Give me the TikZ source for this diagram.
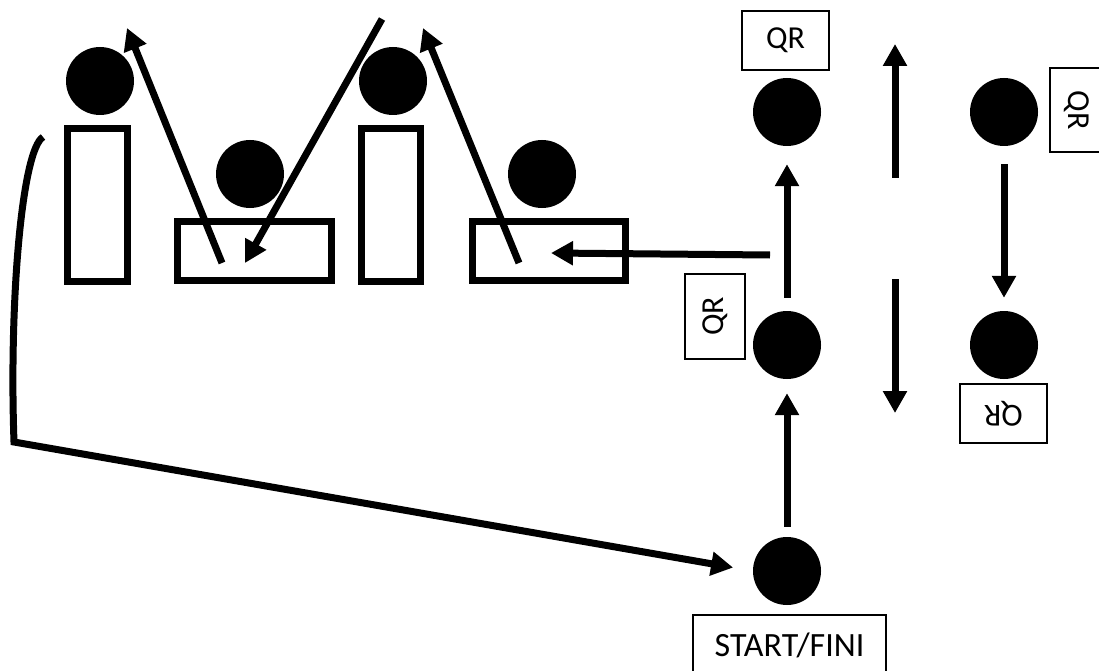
\documentclass[tikz,border=0pt]{standalone}
\usepackage{fontspec}
\setmainfont{Carlito}
\usetikzlibrary{arrows.meta}
\begin{document}
\begin{tikzpicture}[x=1pt,y=-1pt,
  head/.style={circle,fill=black,inner sep=0pt,minimum size=68pt},
  body/.style={rectangle,draw=black,line width=7pt,inner sep=0pt},
  qrbox/.style={rectangle,draw=black,line width=1.2pt,inner sep=0pt,
     font=\fontsize{32}{36}\selectfont},
  arr/.style={line width=7pt,-{Triangle[length=22pt,width=23pt]}},
  curveline/.style={line width=7pt,line join=miter}
]
\useasboundingbox (0,0) rectangle (1099,671);
% left figures
\node[head] (h1) at (100,81) {};
\node[body,minimum width=60pt,minimum height=152pt] (b1) at (97,205) {};
\node[head] (h2) at (250,174) {};
\node[body,minimum width=154pt,minimum height=59pt] (b2) at (254,250.5) {};
\node[head] (h3) at (393,81) {};
\node[body,minimum width=59pt,minimum height=152pt] (b3) at (390.5,205) {};
\node[head] (h4) at (542,174) {};
\node[body,minimum width=153pt,minimum height=59pt] (b4) at (548.5,250.5) {};
% right circles
\node[head] (A) at (787,112) {};
\node[head] (B) at (1004,112) {};
\node[head] (C) at (787,345) {};
\node[head] (D) at (1004,345) {};
\node[head] (S) at (787,571) {};
% labels
\node[qrbox,minimum width=87pt,minimum height=59pt] (qa) at (785.5,40.5) {QR};
\node[qrbox,rotate=-90,minimum width=84pt,minimum height=54pt] (qb) at (1077,110) {QR};
\node[qrbox,rotate=90,minimum width=85pt,minimum height=60pt] (qc) at (715,316.5) {QR};
\node[qrbox,rotate=180,minimum width=87pt,minimum height=59pt] (qd) at (1003.5,413.5) {QR};
\node[qrbox,font=\fontsize{34}{38}\selectfont,minimum width=193pt,minimum height=60pt] (qs) at (789.5,645) {START/FINI};
% free ends
\coordinate (a1s) at (222,263);
\coordinate (a1e) at (127,28);
\coordinate (a2s) at (382,19);
\coordinate (a2e) at (245,263);
\coordinate (a3s) at (519,263);
\coordinate (a3e) at (423,28);
\coordinate (a4s) at (770,255);
\coordinate (a4e) at (551,253);
\coordinate (mus) at (895,178);
\coordinate (mue) at (895,44);
\coordinate (mds) at (895,279);
\coordinate (mde) at (895,413);
\coordinate (cs) at (43,137);
\coordinate (cc) at (14,442);
% arrows
\draw[arr] (a1s) -- (a1e);
\draw[arr] (a2s) -- (a2e);
\draw[arr] (a3s) -- (a3e);
\draw[arr] (a4s) -- (a4e);
\draw[arr] (mus) -- (mue);
\draw[arr] (mds) -- (mde);
\draw[arr,shorten <=13pt,shorten >=18pt] (C) -- (A);
\draw[arr,shorten <=18pt,shorten >=13pt] (B) -- (D);
\draw[arr,shorten <=10pt,shorten >=14pt] (S) -- (C);
\draw[curveline,-{Triangle[length=22pt,width=23pt]},shorten >=20pt]
  (cs) .. controls (22,150) and (9,300) .. (cc) -- (S.west);
\end{tikzpicture}
\end{document}
